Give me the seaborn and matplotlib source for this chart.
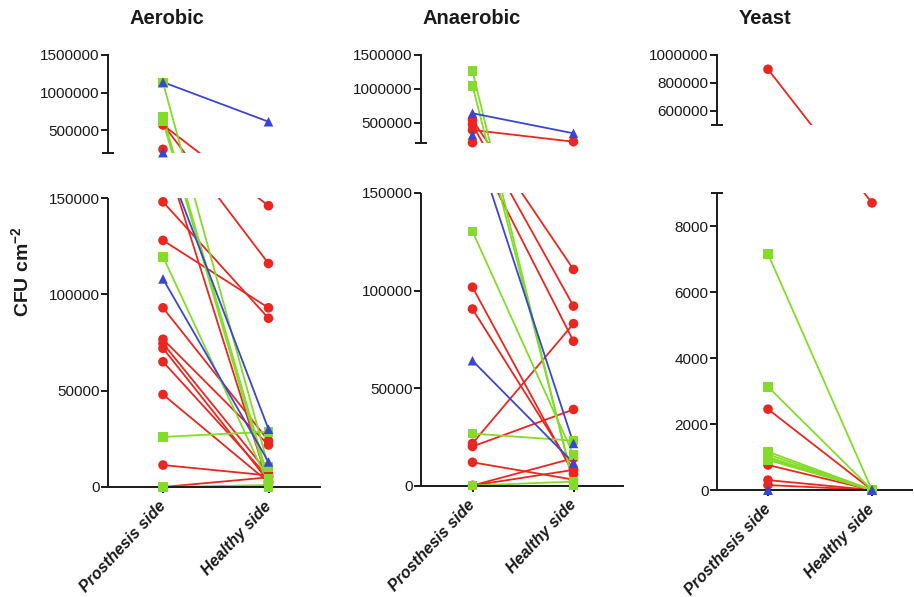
import numpy as np
import pandas as pd
import matplotlib
matplotlib.use("Agg")
import matplotlib.pyplot as plt
from matplotlib.path import Path
from matplotlib.ticker import FuncFormatter
from matplotlib.transforms import blended_transform_factory
import seaborn as sns

# ---------------------------------------------------------------- data
sides = ["Prosthesis side", "Healthy side"]
groups = ["Group A", "Group B", "Group C"]

# Aerobic counts (CFU cm-2), paired prosthesis / healthy side
aer_a_pros = [571000, 580000, 249000, 148000, 128000, 93000, 76700, 74500, 72000, 65000, 48000, 11400, 0]
aer_a_heal = [146000, 116000, 1500, 87600, 93000, 24000, 21800, 7000, 3000, 5000, 2500, 6000, 5000]
aer_b_pros = [1132000, 682000, 620000, 119500, 26000, 0, 0]
aer_b_heal = [10500, 4000, 1000, 2000, 28700, 0, 1000]
aer_c_pros = [1140000, 205000, 108000]
aer_c_heal = [615000, 30000, 13000]

# Anaerobic counts
ana_a_pros = [540000, 470000, 392000, 205000, 101700, 90500, 21600, 20000, 11900, 0, 0]
ana_a_heal = [110800, 92000, 219000, 74000, 6000, 8000, 83000, 39000, 3000, 14000, 8000]
ana_b_pros = [1264000, 1046000, 130300, 26600, 0, 0]
ana_b_heal = [0, 1500, 15600, 23000, 0, 2000]
ana_c_pros = [639000, 318000, 64000]
ana_c_heal = [343000, 21600, 11600]

# Yeast counts
yst_a_pros = [898000, 2450, 757, 300, 150]
yst_a_heal = [8700, 0, 0, 0, 0]
yst_b_pros = [7150, 3130, 1160, 1080, 1000, 950, 910]
yst_b_heal = [0, 0, 0, 0, 0, 0, 0]
yst_c_pros = [0, 0]
yst_c_heal = [0, 0]

titles = ["Aerobic", "Anaerobic", "Yeast"]
y_label = r"CFU cm$^{\mathbf{-2}}$"

# ---------------------------------------------------------------- style
sns.set_theme(style="ticks")
plt.rcParams["font.family"] = ["Liberation Sans", "DejaVu Sans"]
plt.rcParams["mathtext.fontset"] = "custom"
plt.rcParams["mathtext.rm"] = "Liberation Sans"
plt.rcParams["mathtext.bf"] = "Liberation Sans:bold"

palette = {"Group A": "#ea2620", "Group B": "#82dc28", "Group C": "#3a46d2"}
markers = {"Group A": "o", "Group B": "s", "Group C": "^"}
INK = "#1a1a1a"
W, H = 914, 597


def long_table(a_p, a_h, b_p, b_h, c_p, c_h):
    rows = []
    pair = 0
    for g, pros, heal in zip(groups, (a_p, b_p, c_p), (a_h, b_h, c_h)):
        for p, h in zip(pros, heal):
            rows.append((pair, g, 0, p))
            rows.append((pair, g, 1, h))
            pair += 1
    return pd.DataFrame(rows, columns=["pair", "group", "side", "cfu"])


def broken_scale(b1, b2, b3, lp, gp, hp):
    """Piecewise-linear y mapping: [0,b1] -> lp px, gap (b1,b2) -> gp px, [b2,b3] -> hp px."""
    k1, k2, k3 = lp / b1, gp / (b2 - b1), hp / (b3 - b2)

    def fwd(v):
        v = np.asarray(v, dtype=float)
        return np.where(v <= b1, v * k1,
                        np.where(v <= b2, lp + (v - b1) * k2, lp + gp + (v - b2) * k3))

    def inv(s):
        s = np.asarray(s, dtype=float)
        return np.where(s <= lp, s / k1,
                        np.where(s <= lp + gp, b1 + (s - lp) / k2, b2 + (s - lp - gp) / k3))

    return fwd, inv


tables = [
    long_table(aer_a_pros, aer_a_heal, aer_b_pros, aer_b_heal, aer_c_pros, aer_c_heal),
    long_table(ana_a_pros, ana_a_heal, ana_b_pros, ana_b_heal, ana_c_pros, ana_c_heal),
    long_table(yst_a_pros, yst_a_heal, yst_b_pros, yst_b_heal, yst_c_pros, yst_c_heal),
]

# axis layout in pixels: left/right of x axis, category centres, y pixel of 0, break ends, top
layouts = [
    dict(left=108, right=320, c0=163, c1=268.5, y0=487, ylow=198, yhigh=153, ytop=55,
         b1=150000, b2=200000, b3=1500000,
         low_ticks=[0, 50000, 100000, 150000], high_ticks=[500000, 1000000, 1500000],
         low_cap=False, title_x=167),
    dict(left=421, right=623, c0=472.5, c1=573.5, y0=485.5, ylow=193, yhigh=143, ytop=55,
         b1=150000, b2=200000, b3=1500000,
         low_ticks=[0, 50000, 100000, 150000], high_ticks=[500000, 1000000, 1500000],
         low_cap=False, title_x=472),
    dict(left=717, right=912, c0=768, c1=872, y0=490, ylow=193, yhigh=125, ytop=55,
         b1=9000, b2=500000, b3=1000000,
         low_ticks=[0, 2000, 4000, 6000, 8000], high_ticks=[600000, 800000, 1000000],
         low_cap=True, title_x=765),
]

fig = plt.figure(figsize=(W / 100, H / 100), dpi=100)

for df, L, title in zip(tables, layouts, titles):
    ax = fig.add_axes([L["left"] / W, 1 - L["y0"] / H,
                       (L["right"] - L["left"]) / W, (L["y0"] - L["ytop"]) / H])
    lp, gp, hp = L["y0"] - L["ylow"], L["ylow"] - L["yhigh"], L["yhigh"] - L["ytop"]
    fwd, inv = broken_scale(L["b1"], L["b2"], L["b3"], lp, gp, hp)
    ax.set_yscale("function", functions=(fwd, inv))

    sns.lineplot(data=df, x="side", y="cfu", hue="group", units="pair", estimator=None,
                 hue_order=groups, palette=palette, sort=False, linewidth=1.3,
                 legend=False, ax=ax)
    # hide the line parts that fall inside the axis break
    tot = lp + gp + hp
    f1, f2 = lp / tot, (lp + gp) / tot
    verts = [(-0.1, -0.1), (1.1, -0.1), (1.1, f1), (-0.1, f1), (-0.1, -0.1),
             (-0.1, f2), (1.1, f2), (1.1, 1.1), (-0.1, 1.1), (-0.1, f2)]
    codes = [Path.MOVETO, Path.LINETO, Path.LINETO, Path.LINETO, Path.CLOSEPOLY] * 2
    clip = Path(verts, codes)
    for ln in ax.lines:
        ln.set_clip_path(clip, ax.transAxes)

    sns.scatterplot(data=df, x="side", y="cfu", hue="group", style="group",
                    hue_order=groups, style_order=groups, palette=palette, markers=markers,
                    s=48, linewidth=0, legend=False, ax=ax, clip_on=False, zorder=3)

    ax.set_xlim((L["left"] - L["c0"]) / (L["c1"] - L["c0"]),
                (L["right"] - L["c0"]) / (L["c1"] - L["c0"]))
    ax.set_ylim(0, L["b3"])

    ax.set_yticks(L["low_ticks"] + L["high_ticks"])
    ax.yaxis.set_major_formatter(FuncFormatter(lambda v, p: f"{int(round(v))}"))
    ax.set_xticks([0, 1])
    ax.set_xticklabels(sides, rotation=47, ha="right", va="center",
                       rotation_mode="anchor", fontsize=11.5,
                       fontweight="bold", fontstyle="italic", color=INK)
    ax.tick_params(axis="y", length=5, width=1.4, color=INK, labelsize=11,
                   labelcolor=INK, pad=1)
    ax.tick_params(axis="x", length=4, width=1.4, color=INK, pad=8)
    ax.set_xlabel("")
    ax.set_ylabel("")

    for side in ("top", "right", "left"):
        ax.spines[side].set_visible(False)
    ax.spines["bottom"].set_linewidth(1.4)
    ax.spines["bottom"].set_color(INK)

    # two-piece y axis with end caps at the break
    tr = blended_transform_factory(ax.transAxes, ax.transData)
    ax.plot([0, 0], [0, L["b1"]], transform=tr, color=INK, lw=1.4, clip_on=False,
            solid_capstyle="butt")
    ax.plot([0, 0], [L["b2"], L["b3"]], transform=tr, color=INK, lw=1.4, clip_on=False,
            solid_capstyle="projecting")
    ax.plot([0], [L["b2"]], transform=tr, marker="_", ms=9, mew=1.4, color=INK,
            clip_on=False)
    if L["low_cap"]:
        ax.plot([0], [L["b1"]], transform=tr, marker="_", ms=9, mew=1.4, color=INK,
                clip_on=False)

    ax.set_facecolor("none")
    fig.text(L["title_x"] / W, 1 - 18 / H, title, ha="center", va="center",
             fontsize=14.5, fontweight="bold", color=INK)

fig.text(22 / W, 1 - 272 / H, y_label, rotation=90, ha="center", va="center",
         fontsize=14, fontweight="bold", color=INK)

fig.savefig("out.png", dpi=100)
